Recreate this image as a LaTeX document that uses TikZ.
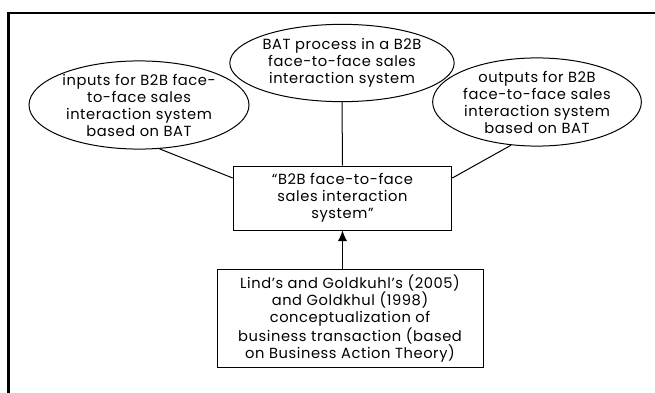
\documentclass[tikz,border=0pt]{standalone}
\usepackage{fontspec}
\setmainfont[LetterSpace=4]{Poppins}
\usetikzlibrary{shapes.geometric,arrows.meta}
\tikzset{
  bubble/.style={draw, ellipse, line width=0.75pt, inner sep=0pt, align=center},
  frame/.style={draw, rectangle, line width=0.75pt, inner sep=0pt, align=center},
  link/.style={line width=0.75pt}
}
\begin{document}
\begin{tikzpicture}[x=0.75pt, y=-0.75pt, font=\fontsize{11}{12.75}\selectfont]
\useasboundingbox (0,0) rectangle (655,392);
% outer border, cut off at right and bottom
\draw[line width=2pt] (8.5,395) -- (8.5,13) -- (658,13);
% ellipses
\node[bubble, minimum width=165pt, minimum height=52.5pt] (inp) at (139,105) {inputs for B2B face-\\to-face sales\\interaction system\\based on BAT};
\node[bubble, minimum width=165pt, minimum height=58pt] (proc) at (342,63) {BAT process in a B2B\\face-to-face sales\\interaction system};
\node[bubble, minimum width=154pt, minimum height=58pt] (outp) at (537,102) {outputs for B2B\\face-to-face sales\\interaction system\\based on BAT};
% boxes
\node[frame, minimum width=164pt, minimum height=48pt] (sys) at (342.5,198) {``B2B face-to-face\\sales interaction\\system''};
\node[frame, minimum width=199.5pt, minimum height=74pt] (lit) at (350,318.5) {Lind's and Goldkuhl's (2005)\\and Goldkhul (1998)\\conceptualization of\\business transaction (based\\on Business Action Theory)};
% connectors
\draw[link] (inp.-65) -- ([yshift=15pt]sys.west);
\draw[link] (proc.south) -- (sys.north);
\draw[link] (outp.-121) -- ([yshift=15pt]sys.east);
\draw[link, -{Latex[length=8pt, width=7pt]}] (lit.north -| sys.south) -- (sys.south);
\end{tikzpicture}
\end{document}
